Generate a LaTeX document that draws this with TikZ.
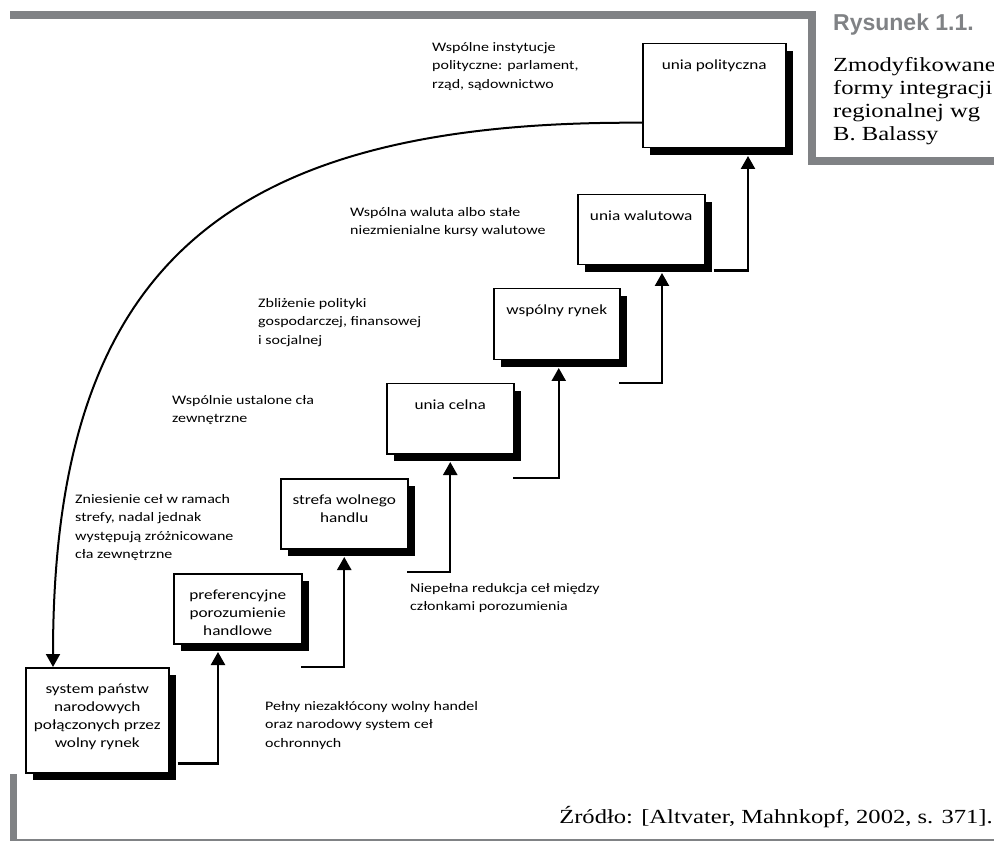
\documentclass[tikz,border=0pt]{standalone}
\usepackage{fontspec}
\setmainfont[FakeStretch=1.23]{Carlito}
\newfontfamily\serifcap[FakeStretch=1.23]{Liberation Serif}
\newfontfamily\sanscap[BoldFont={Liberation Sans Bold}]{Liberation Sans}
\usetikzlibrary{arrows.meta,calc,shadows}
\definecolor{framegrey}{RGB}{128,130,133}
\begin{document}
\begin{tikzpicture}[x=1pt,y=-1pt,
  box/.style={draw=black,line width=1.5pt,fill=white,inner sep=0,anchor=north west,
     general shadow={fill=black,shadow xshift=7.5pt,shadow yshift=-7.5pt}},
  boxtext/.style={font=\fontsize{14}{18}\selectfont,align=center,inner sep=0,anchor=north},
  note/.style={font=\fontsize{13}{18.5}\selectfont,align=left,inner sep=0,anchor=north west},
  conn/.style={line width=2.4pt,-{Triangle[width=14pt,length=13pt]}},
  curvearrow/.style={line width=2pt,-{Triangle[width=14pt,length=13pt]}},
  framebar/.style={fill=framegrey,draw=none},
]
\useasboundingbox (0,0) rectangle (994,842);
% frame
\fill[framebar] (10,11.5) rectangle (816,19.5);
\fill[framebar] (808,11.5) rectangle (816,165);
\fill[framebar] (808,157) rectangle (994,165);
\fill[framebar] (10,774) rectangle (17,840);
\fill[framebar] (10,838.5) rectangle (994,840.5);
% caption
\node[anchor=base west,font=\sanscap\bfseries\fontsize{23}{24}\selectfont,text=framegrey,inner sep=0] (cap) at (833,31) {Rysunek 1.1.};
\node[anchor=north west,font=\serifcap\fontsize{20}{23}\selectfont,align=left,inner sep=0] (captext) at (833,57) {Zmodyfikowane\\formy integracji\\regionalnej wg\\B. Balassy};
\node[anchor=base east,font=\serifcap\fontsize{20}{22}\selectfont,inner sep=0] (src) at (993,823) {Źródło: [Altvater, Mahnkopf, 2002, s. 371].};
% boxes
\node[box,minimum width=143pt,minimum height=105pt] (b1) at (25,667) {};
\node[box,minimum width=128pt,minimum height=70pt] (b2) at (173,573) {};
\node[box,minimum width=127pt,minimum height=70pt] (b3) at (280,478) {};
\node[box,minimum width=127pt,minimum height=70pt] (b4) at (386,383) {};
\node[box,minimum width=126pt,minimum height=71pt] (b5) at (493,288) {};
\node[box,minimum width=127pt,minimum height=70pt] (b6) at (577,194) {};
\node[box,minimum width=143pt,minimum height=104pt] (b7) at (642,43) {};
\node[boxtext] (t1) at ($(b1.north)+(0,17)$) {system państw\\narodowych\\połączonych przez\\wolny rynek};
\node[boxtext] (t2) at ($(b2.north)+(0,17)$) {preferencyjne\\porozumienie\\handlowe};
\node[boxtext] (t3) at ($(b3.north)+(0,17)$) {strefa wolnego\\handlu};
\node[boxtext] (t4) at ($(b4.north)+(0,17)$) {unia celna};
\node[boxtext] (t5) at ($(b5.north)+(0,17)$) {wspólny rynek};
\node[boxtext] (t6) at ($(b6.north)+(0,17)$) {unia walutowa};
\node[boxtext] (t7) at ($(b7.north)+(0,17)$) {unia polityczna};
% notes
\node[note] (n7) at (432,42) {Wspólne instytucje\\polityczne: parlament,\\rząd, sądownictwo};
\node[note] (n6) at (350,207) {Wspólna waluta albo stałe\\niezmienialne kursy walutowe};
\node[note] (n5) at (258,298) {Zbliżenie polityki\\gospodarczej, finansowej\\i socjalnej};
\node[note] (n4) at (172,395) {Wspólnie ustalone cła\\zewnętrzne};
\node[note] (n3) at (75,494) {Zniesienie ceł w ramach\\strefy, nadal jednak\\występują zróżnicowane\\cła zewnętrzne};
\node[note] (n2) at (410,583) {Niepełna redukcja ceł między\\członkami porozumienia};
\node[note] (n1) at (265,701) {Pełny niezakłócony wolny handel\\oraz narodowy system ceł\\ochronnych};
% connectors
\coordinate (s2) at (301,667);
\coordinate (s3) at (407,572);
\coordinate (s4) at (513,478);
\coordinate (s5) at (619,383);
\draw[conn] ($(b1.south east)+(8,-10)$) -| ($(b2.south west)+(45,7.5)$);
\draw[conn] (s2) -| ($(b3.south)+(0,7.5)$);
\draw[conn] (s3) -| ($(b4.south)+(0,7.5)$);
\draw[conn] (s4) -| ($(b5.south)+(2,7.5)$);
\draw[conn] (s5) -| ($(b6.south west)+(85,7.5)$);
\draw[conn] ($(b6.south east)+(8,5)$) -| ($(b7.south west)+(106,7.5)$);
\draw[curvearrow] ($(b7.west)+(0,27)$) .. controls (220,120) and (53,270) .. ($(b1.north west)+(28,0)$);
\end{tikzpicture}
\end{document}
